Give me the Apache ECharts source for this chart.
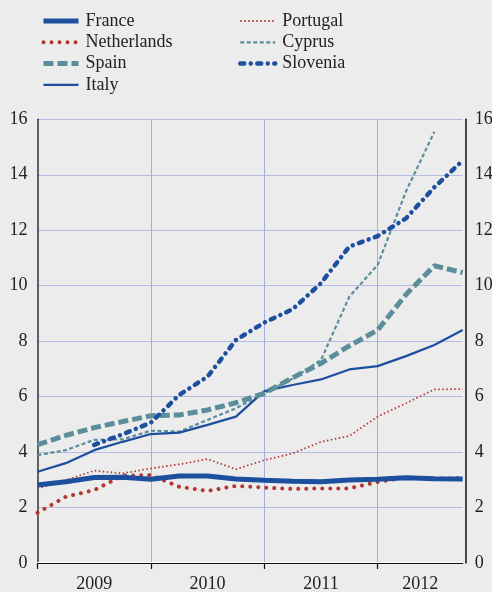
<!DOCTYPE html>
<html>
<head>
<meta charset="utf-8">
<script src="https://cdn.jsdelivr.net/npm/echarts@6/dist/echarts.min.js"></script>
<style>
  html, body { margin: 0; padding: 0; background: #ececec; }
  #chart { width: 492px; height: 592px; }
</style>
</head>
<body>
<div id="chart"></div>
<script>
var years = ['2009', '2010', '2011', '2012'];
var quarters = [];
years.forEach(function (y) {
    ['Q1', 'Q2', 'Q3', 'Q4'].forEach(function (q) { quarters.push(y + ' ' + q); });
});
var yTicks = [0, 2, 4, 6, 8, 10, 12, 14, 16];

var france      = [2.81, 2.93, 3.08, 3.09, 3.02, 3.14, 3.14, 3.03, 2.98, 2.95, 2.93, 2.99, 3.02, 3.07, 3.04, 3.03];
var netherlands = [1.81, 2.39, 2.63, 3.15, 3.17, 2.75, 2.6, 2.78, 2.72, 2.67, 2.69, 2.69, 2.92, 3.08, 3.04, 3.06];
var spain       = [4.27, 4.6, 4.88, 5.1, 5.31, 5.34, 5.52, 5.78, 6.12, 6.68, 7.2, 7.83, 8.4, 9.68, 10.72, 10.47];
var italy       = [3.29, 3.6, 4.07, 4.37, 4.65, 4.7, 4.98, 5.28, 6.2, 6.42, 6.62, 6.98, 7.1, 7.46, 7.86, 8.4];
var portugal    = [2.69, 2.99, 3.33, 3.23, 3.41, 3.56, 3.75, 3.38, 3.71, 3.95, 4.37, 4.58, 5.28, 5.76, 6.26, 6.27];
var cyprus      = [3.89, 4.07, 4.44, 4.46, 4.77, 4.74, 5.16, 5.58, 6.12, 6.65, 7.32, 9.6, 10.75, 13.4, 15.55, null];
var slovenia    = [null, null, 4.26, 4.64, 5.06, 6.06, 6.72, 8.04, 8.67, 9.15, 10.09, 11.41, 11.79, 12.43, 13.55, 14.51];

var blue = '#1c4f9e', red = '#b3392f', teal = '#5b8e9a';
var font = 'Liberation Serif';

// label positions: centre of each year's visible quarters
var lastIdx = quarters.length - 1;
var yearCentres = years.map(function (y, k) {
    return (4 * k + Math.min(4 * k + 4, lastIdx)) / 2;
});
var yearStarts = years.map(function (y, k) { return 4 * k; });

function line(name, data, color, width, type, cap) {
    return {
        name: name, type: 'line', data: data, symbol: 'none', xAxisIndex: 0,
        lineStyle: { color: color, width: width, type: type, cap: cap || 'butt' },
        itemStyle: { color: color },
        emphasis: { disabled: true }
    };
}

var legendBase = {
    orient: 'vertical', top: 7, itemWidth: 35, itemHeight: 14, itemGap: 3.3,
    itemStyle: { opacity: 0, borderWidth: 0 },
    lineStyle: { width: 'inherit', type: 'inherit', cap: 'inherit' },
    textStyle: { fontFamily: font, fontSize: 18, color: '#222', lineHeight: 18, padding: [0, 0, 0, 2] },
    selectedMode: false
};

var option = {
    backgroundColor: '#ececec',
    animation: false,
    legend: [
        Object.assign({ left: 36, data: ['France', 'Netherlands', 'Spain', 'Italy'] }, legendBase),
        Object.assign({ left: 233, data: ['Portugal', 'Cyprus', 'Slovenia'] }, legendBase)
    ],
    grid: { left: 37.5, right: 29.3, top: 119.3, bottom: 29, containLabel: false, outerBoundsMode: 'none' },
    xAxis: [{
        type: 'category', data: quarters, boundaryGap: false,
        axisLine: { lineStyle: { color: '#ffffff', width: 2 } },
        axisTick: { show: false }, axisLabel: { show: false },
        splitLine: {
            show: true,
            interval: function (i) { return i > 0 && i % 4 === 0; },
            lineStyle: { color: '#a3ade8', width: 1 }
        }
    }, {
        type: 'value', min: 0, max: lastIdx, position: 'bottom', offset: 3,
        axisLine: { show: true, lineStyle: { color: '#111', width: 1.2 } },
        axisTick: { show: true, customValues: yearStarts, length: 6, lineStyle: { color: '#111', width: 1.2 } },
        axisLabel: {
            customValues: yearCentres, margin: 9,
            fontFamily: font, fontSize: 18, color: '#222',
            formatter: function (v) { return years[yearCentres.indexOf(v)]; }
        },
        splitLine: { show: false }
    }],
    yAxis: [{
        type: 'value', min: 0, max: 16, interval: 2, position: 'left',
        axisLine: { show: true, lineStyle: { color: '#333', width: 1.5 } },
        axisTick: { show: false },
        axisLabel: { margin: 10, fontFamily: font, fontSize: 18, color: '#222' },
        splitLine: { lineStyle: { color: '#b4bce6', width: 1 } }
    }, {
        type: 'value', min: 0, max: 16, interval: 2, position: 'right', offset: 3,
        axisLine: { show: true, lineStyle: { color: '#111', width: 1.5 } },
        axisTick: { show: false },
        axisLabel: { margin: 9, fontFamily: font, fontSize: 18, color: '#222' },
        splitLine: { show: false }
    }],
    series: [
        line('Portugal', portugal, red, 1.8, [1.5, 2.5]),
        line('Cyprus', cyprus, teal, 2.2, [4, 2.5]),
        line('Netherlands', netherlands, red, 4, [0.01, 8], 'round'),
        line('Italy', italy, blue, 2.2, 'solid'),
        line('Spain', spain, teal, 5, [10, 4]),
        line('Slovenia', slovenia, blue, 4.5, [4, 6.5, 0.01, 6.5], 'round'),
        line('France', france, blue, 5, 'solid')
    ]
};

var myChart = echarts.init(document.getElementById('chart'));
myChart.setOption(option);
</script>
</body>
</html>
